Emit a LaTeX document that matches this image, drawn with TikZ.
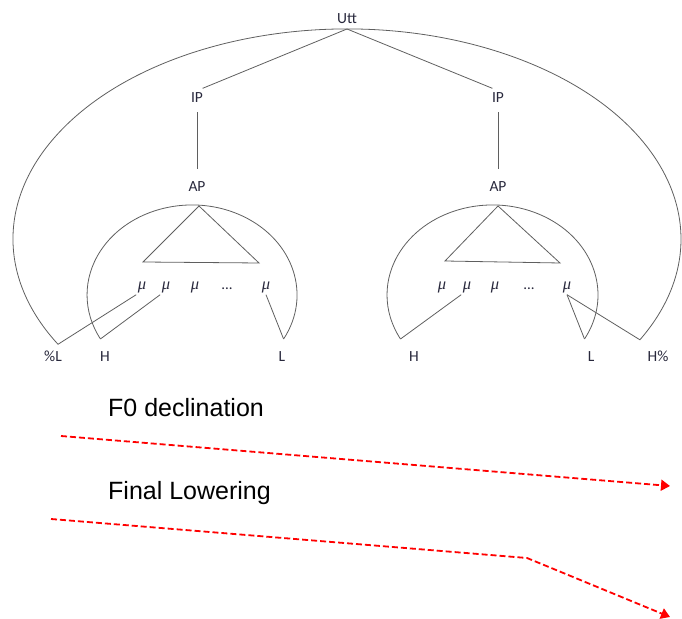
\documentclass[tikz,border=0pt]{standalone}
\usepackage{fontspec}
\setmainfont{Carlito}
\newfontfamily\arialf{Liberation Sans}
\newfontfamily\mufont{Liberation Serif}
\usetikzlibrary{arrows.meta}
\definecolor{lblcol}{RGB}{40,40,60}
\definecolor{linecol}{RGB}{95,95,95}
\begin{document}
\begin{tikzpicture}[x=1pt,y=1pt,
  lbl/.style={font=\fontsize{15.5}{18}\selectfont, text=lblcol, inner sep=4.5pt, anchor=base},
  mu/.style={font=\mufont\itshape\fontsize{16.5}{18}\selectfont, text=lblcol, inner sep=1.5pt, anchor=base},
  dots/.style={font=\fontsize{15}{18}\selectfont, text=lblcol, inner sep=1.5pt, anchor=base},
  tree/.style={draw=linecol, line width=0.8pt},
  reddash/.style={draw=red, line width=1.8pt, dash pattern=on 6pt off 3pt, -{Triangle[length=9pt,width=11pt]}},
  captxt/.style={font=\arialf\fontsize{25}{29}\selectfont, anchor=base west, inner sep=0pt}]
\useasboundingbox (0,0) rectangle (682,618);

% tree labels
\node[lbl] (utt) at (347,594) {Utt};
\coordinate (apex) at (347,589);
\node[lbl] (ipl) at (197,515) {IP};
\node[lbl] (ipr) at (498,515) {IP};
\node[lbl] (apl) at (197,426) {AP};
\node[lbl] (apr) at (498,426) {AP};

\draw[tree] (apex) -- (ipl.60);
\draw[tree] (apex) -- (ipr.120);
\draw[tree, shorten <=4.5pt, shorten >=8.5pt] (ipl.south) -- (apl.north);
\draw[tree, shorten <=4.5pt, shorten >=8.5pt] (ipr.south) -- (apr.north);

% triangles
\draw[tree] (199,412) -- (143,356) -- (259,355) -- cycle;
\draw[tree] (498,412) -- (445,357) -- (560,355) -- cycle;

% mu rows
\node[mu] (lm1) at (142,328.5) {μ};
\node[mu] (lm2) at (166,328.5) {μ};
\node[mu] (lm3) at (195,328.5) {μ};
\node[dots] (ld)  at (227,328.5) {...};
\node[mu] (lm5) at (266,328.5) {μ};
\node[mu] (rm1) at (442,328.5) {μ};
\node[mu] (rm2) at (467,328.5) {μ};
\node[mu] (rm3) at (495,328.5) {μ};
\node[dots] (rd)  at (529,328.5) {...};
\node[mu] (rm5) at (567,328.5) {μ};

% arcs
\coordinate (lapR) at (283.6,279);
\coordinate (lapL) at (100.4,279);
\draw[tree] (lapR) arc[start angle=-29.3, end angle=209.3, x radius=105, y radius=90];
\coordinate (rapR) at (584.5,279);
\coordinate (rapL) at (400.5,279);
\draw[tree] (rapR) arc[start angle=-29.3, end angle=209.3, x radius=105.5, y radius=90];
\coordinate (bigR) at (639.9,278.2);
\coordinate (bigL) at (58.0,273.7);
\draw[tree] (bigR) arc[start angle=-28.7, end angle=210.1, x radius=334, y radius=210];

% associations
\draw[tree] (lm1.south west) -- (bigL);
\draw[tree] (lm2.south west) -- (lapL);
\draw[tree] (lm5.south) -- (lapR);
\draw[tree] (rm2.south west) -- (rapL);
\draw[tree] (rm5.south) -- (rapR);
\draw[tree] (rm5.south) -- (bigR);

% tones
\node[lbl] (tpl) at (53,256) {\%L};
\node[lbl] (th1) at (105,256) {H};
\node[lbl] (tl1) at (282,256) {L};
\node[lbl] (th2) at (414,256) {H};
\node[lbl] (tl2) at (591,256) {L};
\node[lbl] (thp) at (658,256) {H\%};

% lower part
\node[captxt] (f0) at (108,201) {F0 declination};
\node[captxt] (fl) at (108,118) {Final Lowering};
\coordinate (d1s) at (61,182);
\coordinate (d1e) at (670,132);
\draw[reddash] (d1s) -- (d1e);
\coordinate (d2s) at (51,99);
\coordinate (d2b) at (527,60);
\coordinate (d2e) at (670,1);
\draw[reddash] (d2s) -- (d2b) -- (d2e);
\end{tikzpicture}
\end{document}
